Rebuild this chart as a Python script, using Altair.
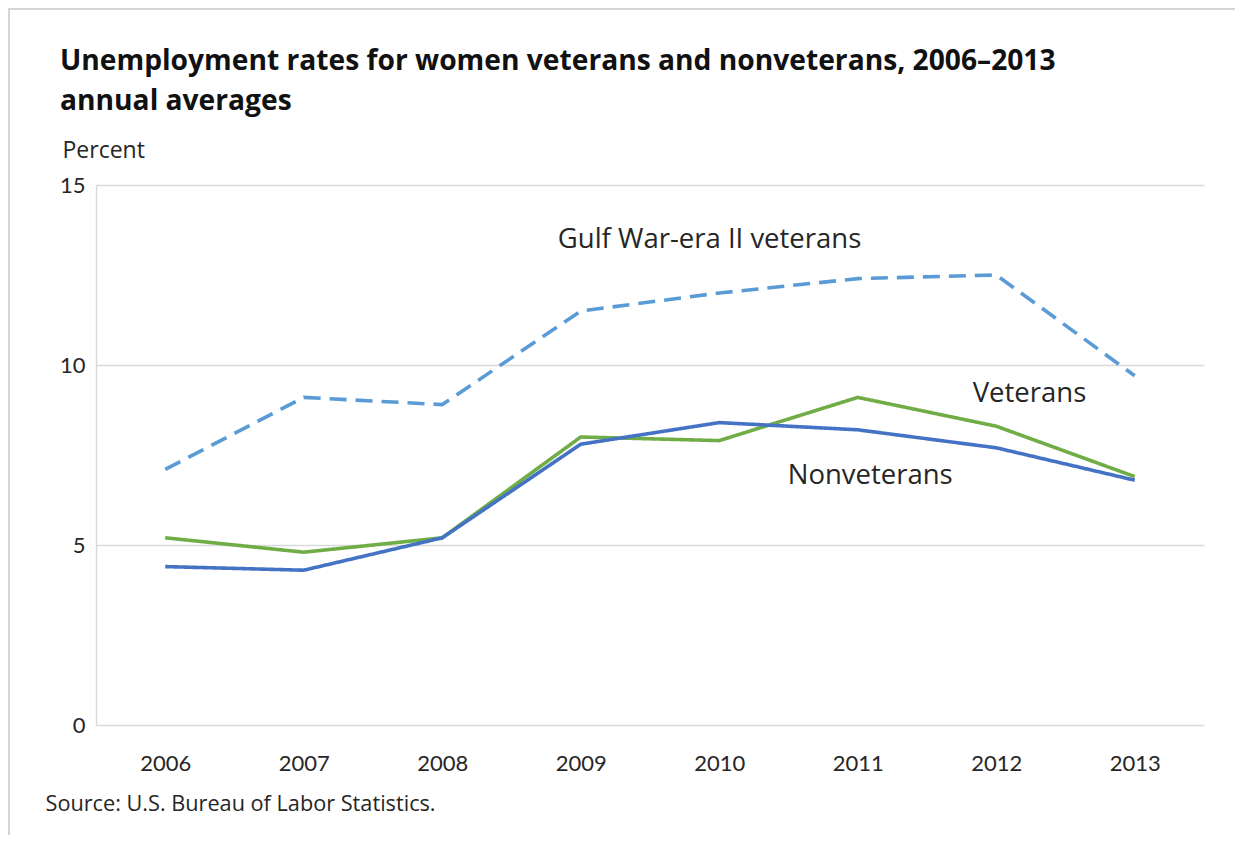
import altair as alt
import pandas as pd

years = [2006, 2007, 2008, 2009, 2010, 2011, 2012, 2013]
gulf_war_ii = [7.1, 9.1, 8.9, 11.5, 12.0, 12.4, 12.5, 9.7]
veterans = [5.2, 4.8, 5.2, 8.0, 7.9, 9.1, 8.3, 6.9]
nonveterans = [4.4, 4.3, 5.2, 7.8, 8.4, 8.2, 7.7, 6.8]

series_names = ["Gulf War-era II veterans", "Veterans", "Nonveterans"]
series_colors = ["#5B9BD5", "#70AD47", "#4472C4"]

label_text = ["Gulf War-era II veterans", "Veterans", "Nonveterans"]
label_year = [2009.93, 2012.24, 2011.09]
label_value = [13.47, 9.19, 6.92]

rows = []
for name, vals in zip(series_names, [gulf_war_ii, veterans, nonveterans]):
    for y, v in zip(years, vals):
        rows.append({"year": y, "rate": v, "series": name})
df = pd.DataFrame(rows)
labels = pd.DataFrame({"label": label_text, "year": label_year, "rate": label_value})

NUM_FONT = "Lato"
TXT_FONT = "Open Sans"
FRAME = "#d4d4d4"

x_scale = alt.Scale(domain=[2005.5, 2013.5], nice=False)
y_scale = alt.Scale(domain=[0, 15], nice=False)

lines = alt.Chart(df).mark_line(strokeWidth=3.6, strokeCap="butt").encode(
    x=alt.X("year:Q", scale=x_scale,
            axis=alt.Axis(values=years, format="d", grid=False, ticks=False, domain=False,
                          labelFontSize=22, labelFont=NUM_FONT, labelColor="#262626",
                          labelBaseline="middle", labelPadding=38,
                          title="Source: U.S. Bureau of Labor Statistics.",
                          titleFont=TXT_FONT, titleFontSize=21.7, titleFontWeight="normal",
                          titleColor="#262626", titleAlign="left", titleBaseline="middle",
                          titleX=-51, titleY=78)),
    y=alt.Y("rate:Q", scale=y_scale,
            axis=alt.Axis(values=[0, 5, 10, 15], grid=True, gridColor="#d9d9d9", gridWidth=1.5,
                          ticks=False, domain=True, domainColor="#d9d9d9", domainWidth=1.5,
                          labelFontSize=22, labelFont=NUM_FONT, labelColor="#262626",
                          labelPadding=11,
                          title="Percent", titleAngle=0, titleFont=TXT_FONT, titleFontSize=23,
                          titleFontWeight="normal", titleColor="#262626",
                          titleAlign="left", titleBaseline="middle", titleX=-34, titleY=-35)),
    color=alt.Color("series:N", scale=alt.Scale(domain=series_names, range=series_colors), legend=None),
    strokeDash=alt.StrokeDash("series:N",
                              scale=alt.Scale(domain=series_names, range=[[17, 9], [1, 0], [1, 0]]),
                              legend=None),
)

texts = alt.Chart(labels).mark_text(font=TXT_FONT, fontSize=27.5, color="#262626").encode(
    x=alt.X("year:Q", scale=x_scale),
    y=alt.Y("rate:Q", scale=y_scale),
    text="label:N",
)

frame_top = alt.Chart(labels).mark_rule(color=FRAME, strokeWidth=2).encode(
    x=alt.value(-87), x2=alt.value(1139), y=alt.value(-176)
)
frame_left = alt.Chart(labels).mark_rule(color=FRAME, strokeWidth=2).encode(
    x=alt.value(-87), y=alt.value(-177), y2=alt.value(650)
)

chart = alt.layer(lines, texts, frame_top, frame_left).properties(
    width=1108,
    height=540,
    title=alt.TitleParams(
        text=["Unemployment rates for women veterans and nonveterans, 2006\u20132013", "annual averages"],
        anchor="start", frame="group", dx=-36, dy=113, font=TXT_FONT, fontSize=28.2,
        fontWeight="bold", lineHeight=40, color="#111111",
    ),
    autosize=alt.AutoSizeParams(type="none"),
    padding={"left": 88, "top": 177, "right": 31, "bottom": 110},
).configure_view(stroke=None)

chart.save("out.html", embed_options={"renderer": "svg", "actions": False})
